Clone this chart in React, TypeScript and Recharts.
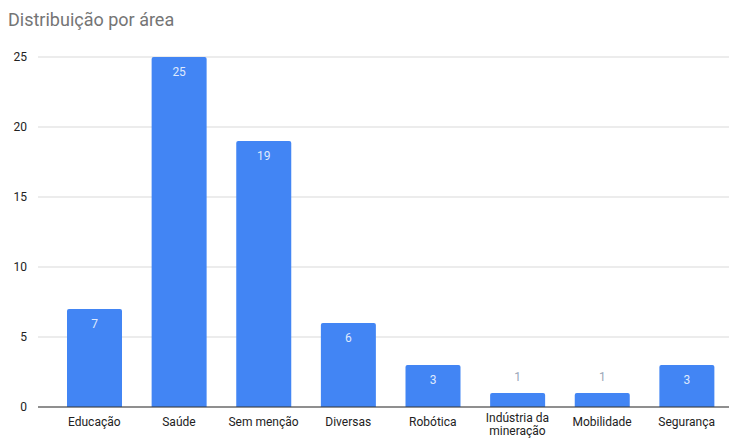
import React from "react";
import { BarChart, Bar, XAxis, YAxis, CartesianGrid, LabelList } from "recharts";

const categories = [
  "Educação",
  "Saúde",
  "Sem menção",
  "Diversas",
  "Robótica",
  "Indústria da mineração",
  "Mobilidade",
  "Segurança",
];
const counts = [7, 25, 19, 6, 3, 1, 1, 3];
const yTicks = [0, 5, 10, 15, 20, 25];

const data = categories.map((area, i) => ({ area, count: counts[i] }));

const FONT = "Roboto, Arial, sans-serif";

function WrappedTick({ x, y, payload }: { x?: number; y?: number; payload?: { value: string } }) {
  const text = payload?.value ?? "";
  const lines = text === "Indústria da mineração" ? ["Indústria da", "mineração"] : [text];
  const first = lines.length > 1 ? 3 : 7;
  return (
    <text x={x} y={(y ?? 0) + 4} textAnchor="middle" fill="#222" fontSize={12} fontFamily={FONT}>
      {lines.map((l, i) => (
        <tspan key={i} x={x} dy={i === 0 ? first : 13}>
          {l}
        </tspan>
      ))}
    </text>
  );
}

function BarValue(props: { x?: number; y?: number; width?: number; height?: number; value?: number }) {
  const { x = 0, y = 0, width = 0, height = 0, value } = props;
  const inside = height > 24;
  return (
    <text
      x={x + width / 2}
      y={inside ? y + 19 : y - 12}
      textAnchor="middle"
      fill={inside ? "#dfe9fd" : "#9aa6b8"}
      fontSize={12}
      fontFamily={FONT}
    >
      {value}
    </text>
  );
}

export default function App() {
  return (
    <div style={{ position: "absolute", left: 0, top: 0, width: 731, height: 439, background: "#fff", fontFamily: FONT }}>
      <div style={{ position: "absolute", left: 8, top: 9, fontSize: 18, color: "#757575" }}>
        Distribuição por área
      </div>
      <BarChart
        width={731}
        height={439}
        data={data}
        margin={{ top: 57, right: 2, left: 0, bottom: 0 }}
        barSize={55}
      >
        <CartesianGrid vertical={false} stroke="#d9d9d9" />
        <XAxis
          dataKey="area"
          interval={0}
          tickLine={false}
          axisLine={{ stroke: "#333" }}
          padding={{ left: 14, right: 0 }}
          tick={<WrappedTick />}
          height={32}
        />
        <YAxis
          domain={[0, 25]}
          ticks={yTicks}
          axisLine={false}
          tickLine={false}
          width={38}
          tick={{ fill: "#222", fontSize: 12, fontFamily: FONT }}
          tickMargin={5}
        />
        <Bar dataKey="count" fill="#4285f4" radius={[2, 2, 0, 0]} isAnimationActive={false}>
          <LabelList dataKey="count" content={<BarValue />} />
        </Bar>
      </BarChart>
    </div>
  );
}
